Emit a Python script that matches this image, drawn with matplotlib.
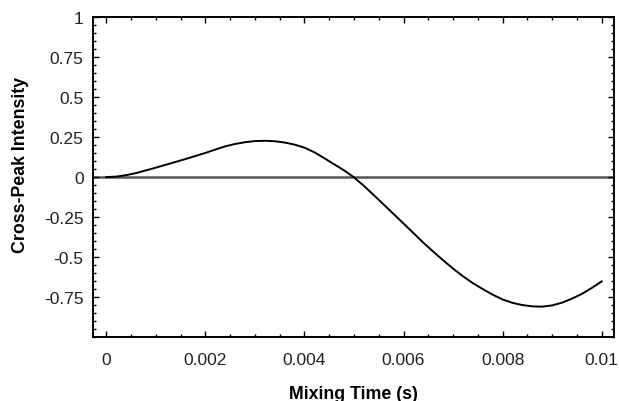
import numpy as np
import matplotlib
matplotlib.use('Agg')
import matplotlib.pyplot as plt
from matplotlib.ticker import MultipleLocator

# mixing time (s) and cross-peak intensity
mix_time = [0.0000, 0.0002, 0.0004, 0.0006, 0.0008, 0.0010, 0.0012, 0.0014, 0.0016,
            0.0018, 0.0020, 0.0022, 0.0024, 0.0026, 0.0028, 0.0030, 0.0032, 0.0034,
            0.0036, 0.0038, 0.0040, 0.0042, 0.0044, 0.0046, 0.0048, 0.0050, 0.0052,
            0.0054, 0.0056, 0.0058, 0.0060, 0.0062, 0.0064, 0.0066, 0.0068, 0.0070,
            0.0072, 0.0074, 0.0076, 0.0078, 0.0080, 0.0082, 0.0084, 0.0086, 0.0088,
            0.0090, 0.0092, 0.0094, 0.0096, 0.0098, 0.0100]
intensity = [0.000, 0.003, 0.012, 0.025, 0.042, 0.059, 0.077, 0.095, 0.113,
             0.132, 0.151, 0.172, 0.192, 0.207, 0.218, 0.225, 0.227, 0.224,
             0.216, 0.203, 0.184, 0.155, 0.118, 0.080, 0.042, -0.002, -0.055,
             -0.113, -0.172, -0.231, -0.290, -0.350, -0.410, -0.466, -0.520, -0.572,
             -0.620, -0.663, -0.700, -0.735, -0.765, -0.786, -0.800, -0.808, -0.810,
             -0.802, -0.785, -0.760, -0.730, -0.693, -0.652]
xticks = [0, 0.002, 0.004, 0.006, 0.008, 0.01]
xtick_labels = ['0', '0.002', '0.004', '0.006', '0.008', '0.01']
yticks = [-0.75, -0.5, -0.25, 0, 0.25, 0.5, 0.75, 1]
ytick_labels = ['-0.75', '-0.5', '-0.25', '0', '0.25', '0.5', '0.75', '1']

plt.rcParams['font.family'] = ['Liberation Sans', 'DejaVu Sans']

fig = plt.figure(figsize=(6.19, 4.02), dpi=100)
ax = fig.add_axes([0.151, 0.159, 0.841, 0.796])

ax.axhline(0, color='#555555', lw=1.8, zorder=1)
ax.plot(mix_time, intensity, color='black', lw=1.4, zorder=2)

ax.set_xlim(-0.00026, 0.01025)
ax.set_ylim(-1, 1)
ax.set_xticks(xticks)
ax.set_xticklabels(xtick_labels)
ax.set_yticks(yticks)
ax.set_yticklabels(ytick_labels)
ax.xaxis.set_minor_locator(MultipleLocator(0.0005))
ax.yaxis.set_minor_locator(MultipleLocator(0.05))
ax.tick_params(which='both', direction='in', top=True, right=True, labelsize=12.5,
               labelcolor='#222222')
ax.tick_params(which='major', length=4, width=1)
ax.tick_params(which='minor', length=2, width=1)
ax.tick_params(axis='x', pad=11)
ax.tick_params(axis='y', pad=7)
for sp in ax.spines.values():
    sp.set_linewidth(1.4)

ax.set_xlabel('Mixing Time (s)', fontsize=12.8, fontweight='bold')
ax.set_ylabel('Cross-Peak Intensity', fontsize=12.8, fontweight='bold')
# label positions in axes units, taken from the original
ax.xaxis.set_label_coords(0.5, -0.15)
ax.yaxis.set_label_coords(-0.124, 0.541)

plt.savefig('out.png', dpi=100)
